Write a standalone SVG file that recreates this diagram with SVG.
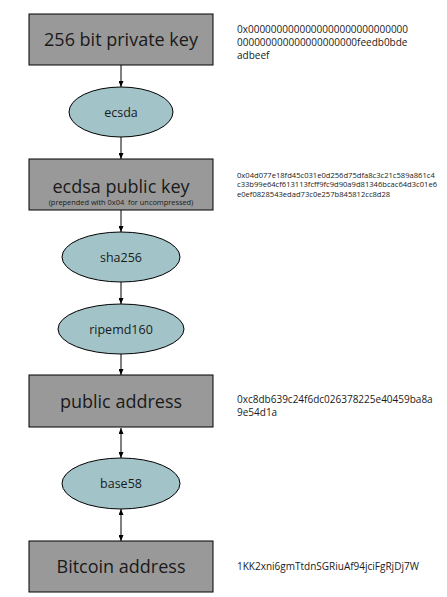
<svg xmlns="http://www.w3.org/2000/svg" width="447" height="597" viewBox="0 0 447 597">
<style>
.box{fill:#999999;stroke:#000;stroke-width:1}
.ell{fill:#a2c4c9;stroke:#000;stroke-width:1}
.big{font-family:"Open Sans","Noto Sans",sans-serif;font-size:18px;fill:#1a1a1a;text-anchor:middle}
.lbl{font-family:"Open Sans","Noto Sans",sans-serif;font-size:12.5px;fill:#1a1a1a;text-anchor:middle}
.sub{font-family:"Open Sans","Noto Sans",sans-serif;font-size:7.4px;fill:#1a1a1a;text-anchor:middle}
.hex{font-family:"Open Sans","Noto Sans",sans-serif;font-size:10px;fill:#1a1a1a}
.hexs{font-family:"Open Sans","Noto Sans",sans-serif;font-size:7.6px;fill:#1a1a1a}
.edge{stroke:#000;stroke-width:1;fill:none}
</style>
<defs>
<marker id="ah" markerWidth="6" markerHeight="5" refX="6" refY="2.5" orient="auto" markerUnits="userSpaceOnUse">
<path d="M0,0 L6,2.5 L0,5 z" fill="#000"/>
</marker>
<marker id="as" markerWidth="6" markerHeight="5" refX="0" refY="2.5" orient="auto" markerUnits="userSpaceOnUse">
<path d="M6,0 L0,2.5 L6,5 z" fill="#000"/>
</marker>
</defs>
<g id="connectors">
<line class="edge" x1="121" y1="65" x2="121" y2="87" marker-end="url(#ah)"/>
<line class="edge" x1="121" y1="137" x2="121" y2="159" marker-end="url(#ah)"/>
<line class="edge" x1="121" y1="210" x2="121" y2="232" marker-end="url(#ah)"/>
<line class="edge" x1="121" y1="282" x2="121" y2="304" marker-end="url(#ah)"/>
<line class="edge" x1="121" y1="354" x2="121" y2="375" marker-end="url(#ah)"/>
<line class="edge" x1="121" y1="428" x2="121" y2="458" marker-start="url(#as)" marker-end="url(#ah)"/>
<line class="edge" x1="121" y1="509" x2="121" y2="541" marker-start="url(#as)" marker-end="url(#ah)"/>
</g>
<g id="private_key">
<rect class="box" x="29" y="14" width="184" height="51"/>
<text class="big" x="121" y="46">256 bit private key</text>
<text class="hex" x="237" y="33">0x0000000000000000000000000000</text>
<text class="hex" x="237" y="46">000000000000000000000feedb0bde</text>
<text class="hex" x="237" y="59">adbeef</text>
</g>
<g id="ecsda">
<ellipse class="ell" cx="121" cy="112" rx="52" ry="25"/>
<text class="lbl" x="121" y="116.5">ecsda</text>
</g>
<g id="public_key">
<rect class="box" x="29" y="159" width="184" height="51"/>
<text class="big" x="121" y="193">ecdsa public key</text>
<text class="sub" x="121" y="205" xml:space="preserve">(prepended with 0x04  for uncompressed)</text>
<text class="hexs" x="237" y="177.5">0x04d077e18fd45c031e0d256d75dfa8c3c21c589a861c4</text>
<text class="hexs" x="237" y="187">c33b99e64cf613113fcff9fc9d90a9d81346bcac64d3c01e6</text>
<text class="hexs" x="237" y="196.5">e0ef0828543edad73c0e257b845812cc8d28</text>
</g>
<g id="sha256">
<ellipse class="ell" cx="121" cy="257" rx="59" ry="25"/>
<text class="lbl" x="121" y="261.5">sha256</text>
</g>
<g id="ripemd160">
<ellipse class="ell" cx="121" cy="329" rx="63" ry="25"/>
<text class="lbl" x="121" y="333.5">ripemd160</text>
</g>
<g id="public_address">
<rect class="box" x="29" y="375" width="184" height="52"/>
<text class="big" x="121" y="407.5">public address</text>
<text class="hex" x="237" y="402.5">0xc8db639c24f6dc026378225e40459ba8a</text>
<text class="hex" x="237" y="416">9e54d1a</text>
</g>
<g id="base58">
<ellipse class="ell" cx="121" cy="483.5" rx="59" ry="25.5"/>
<text class="lbl" x="121" y="488">base58</text>
</g>
<g id="bitcoin_address">
<rect class="box" x="29" y="541" width="184" height="51"/>
<text class="big" x="121" y="573">Bitcoin address</text>
<text class="hex" x="237" y="570">1KK2xni6gmTtdnSGRiuAf94jciFgRjDj7W</text>
</g>
</svg>
